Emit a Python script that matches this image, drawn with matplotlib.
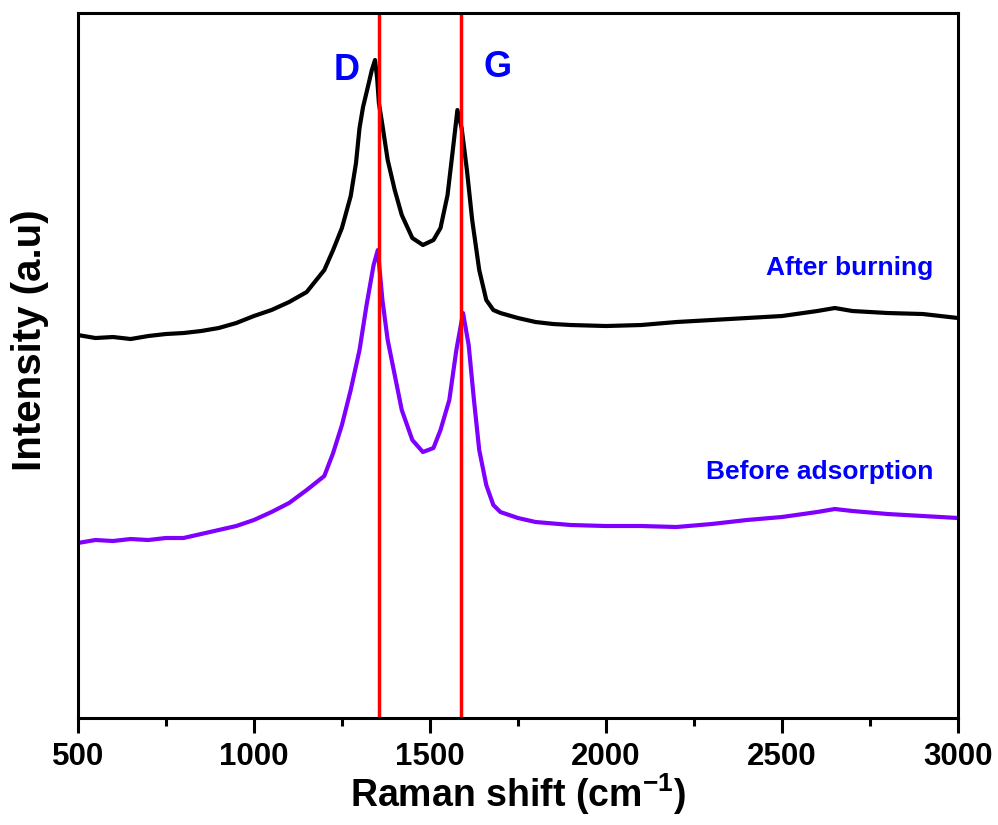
import matplotlib
matplotlib.use("Agg")
from matplotlib import pyplot as plt
from matplotlib.ticker import MultipleLocator

plt.rcParams['font.family'] = ['Liberation Sans', 'DejaVu Sans']
plt.rcParams['font.weight'] = 'bold'
plt.rcParams['axes.labelweight'] = 'bold'
plt.rcParams['mathtext.fontset'] = 'custom'
plt.rcParams['mathtext.rm'] = 'Liberation Sans:bold'
plt.rcParams['mathtext.bf'] = 'Liberation Sans:bold'
plt.rcParams['mathtext.default'] = 'bf'

# Raman shift (cm-1) and intensity (a.u.)
shift_after = [500, 550, 600, 650, 700, 750, 800, 850, 900, 950, 1000, 1050, 1100,
               1150, 1200, 1225, 1250, 1275, 1290, 1300, 1310, 1325, 1335, 1344,
               1350, 1355, 1365, 1380, 1400, 1420, 1450, 1480, 1510, 1530, 1550,
               1565, 1578, 1590, 1605, 1620, 1640, 1660, 1680, 1700, 1750, 1800,
               1850, 1900, 2000, 2100, 2200, 2300, 2400, 2500, 2600, 2650, 2700,
               2800, 2900, 3000]
after_burning = [383, 380, 381, 379, 382, 384, 385, 387, 390, 395, 402, 408, 416,
                 426, 448, 468, 490, 522, 555, 590, 611, 633, 648, 658,
                 640, 615, 593, 558, 528, 503, 480, 473, 478, 490, 523,
                 568, 608, 590, 548, 498, 448, 418, 408, 405, 400, 396,
                 394, 393, 392, 393, 396, 398, 400, 402, 407, 410, 407,
                 405, 404, 400]

shift_before = [500, 550, 600, 650, 700, 750, 800, 850, 900, 950, 1000, 1050, 1100,
                1150, 1200, 1225, 1250, 1275, 1300, 1320, 1340, 1352, 1365, 1380,
                1400, 1420, 1450, 1480, 1510, 1530, 1555, 1575, 1594, 1610, 1625,
                1640, 1660, 1680, 1700, 1750, 1800, 1900, 2000, 2100, 2200, 2300,
                2400, 2500, 2600, 2650, 2700, 2800, 2900, 3000]
before_adsorption = [175, 178, 177, 179, 178, 180, 180, 184, 188, 192, 198, 206, 215,
                     228, 242, 265, 293, 328, 368, 413, 453, 468, 418, 378,
                     343, 308, 278, 266, 270, 288, 318, 368, 405, 373, 318,
                     268, 233, 213, 206, 200, 196, 193, 192, 192, 191, 194,
                     198, 201, 206, 209, 207, 204, 202, 200]

d_band = 1355
g_band = 1588

fig = plt.figure(figsize=(9.98, 8.25), dpi=100)
ax = fig.add_axes([0.078, 0.1297, 0.882, 0.8545])

ax.plot(shift_after, after_burning, color='black', lw=3)
ax.plot(shift_before, before_adsorption, color='#8000FF', lw=3)
ax.axvline(d_band, color='#FF0000', lw=2.5)
ax.axvline(g_band, color='#FF0000', lw=2.5)

ax.text(1262, 648, 'D', color='#0000FF', fontsize=26, ha='center', va='center')
ax.text(1692, 651, 'G', color='#0000FF', fontsize=26, ha='center', va='center')
ax.text(2930, 450, 'After burning', color='#0000FF', fontsize=19, ha='right', va='center')
ax.text(2930, 246, 'Before adsorption', color='#0000FF', fontsize=19, ha='right', va='center')

ax.set_xlim(500, 3000)
ax.set_ylim(0, 705)
ax.xaxis.set_major_locator(MultipleLocator(500))
ax.xaxis.set_minor_locator(MultipleLocator(250))
ax.set_yticks([])
ax.tick_params(axis='x', which='major', direction='out', length=11, width=2.2,
               labelsize=22.5, pad=6)
ax.tick_params(axis='x', which='minor', direction='out', length=6, width=2.2)
for s in ax.spines.values():
    s.set_linewidth(2.2)

ax.set_xlabel('Raman shift (cm$^{-1}$)', fontsize=27, labelpad=0)
ax.set_ylabel('Intensity (a.u)', fontsize=29)
ax.yaxis.set_label_coords(-0.033, 0.536)

fig.savefig('out.png', dpi=100)
